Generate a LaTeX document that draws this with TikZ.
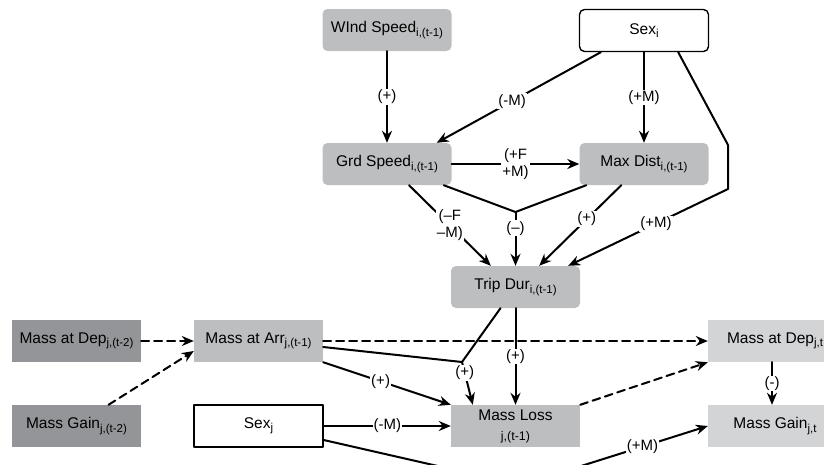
\documentclass[tikz,border=0pt]{standalone}
\usepackage{fontspec}
\setmainfont{Liberation Sans}
\usetikzlibrary{arrows.meta,calc}
\definecolor{BoxGray}{HTML}{BCBEC0}
\definecolor{BoxDark}{HTML}{939598}
\definecolor{BoxLight}{HTML}{D3D4D6}
\newcommand{\ix}[1]{\raisebox{-3.5pt}{\fontsize{11.5}{12}\selectfont #1}}

\begin{document}
\begin{tikzpicture}[x=1pt,y=-1pt,line cap=round,line join=round,
  box/.style={minimum width=129pt,minimum height=42pt,inner sep=0pt,font=\fontsize{15.5}{18}\selectfont},
  rbox/.style={box,rounded corners=5pt},
  lbl/.style={fill=white,inner sep=1pt,font=\fontsize{15}{17}\selectfont},
  link/.style={line width=2pt},
  cause/.style={link,-{Stealth[length=12pt,width=10pt]}},
  carry/.style={cause,dash pattern=on 8pt off 5pt}]
  \useasboundingbox (0,0) rectangle (824,464);
  \clip (0,0) rectangle (824,464);
  % boxes
  \node[rbox,fill=BoxGray] (wind) at (387,30) {WInd Speed\ix{i,(t-1)}};
  \node[rbox,draw,line width=1.4pt,fill=white] (sexi) at (644,30.5) {Sex\ix{i}};
  \node[rbox,fill=BoxGray] (grd) at (387,164) {Grd Speed\ix{i,(t-1)}};
  \node[rbox,fill=BoxGray] (maxd) at (644,164) {Max Dist\ix{i,(t-1)}};
  \node[rbox,fill=BoxGray] (trip) at (515.5,287) {Trip Dur\ix{i,(t-1)}};
  \node[box,fill=BoxDark] (depold) at (76.5,341) {Mass at Dep\ix{j,(t-2)}};
  \node[box,fill=BoxGray] (massarr) at (258.5,341) {Mass at Arr\ix{j,(t-1)}};
  \node[box,fill=BoxDark] (gainold) at (76.5,426) {Mass Gain\ix{j,(t-2)}};
  \node[box,draw,line width=1.4pt,fill=white] (sexj) at (258.5,426) {Sex\ix{j}};
  \node[box,fill=BoxGray,align=center] (loss) at (515.5,426) {Mass Loss\\[2pt]{\fontsize{12.5}{14}\selectfont j,(t-1)}};
  \node[box,fill=BoxLight,minimum width=134pt] (depnew) at (775,341) {Mass at Dep\ix{j,t}};
  \node[box,fill=BoxLight,minimum width=134pt] (gainnew) at (775,426) {Mass Gain\ix{j,t}};
  % bends and joins
  \coordinate (sexbendA) at (728,145);
  \coordinate (sexbendB) at (728,189);
  \coordinate (speedjoin) at (515.5,212);
  \coordinate (lossjoin) at (462,362);
  \coordinate (sexjbend) at (521,485);
  % links
  \draw[cause] (wind) -- node[lbl]{(+)} (grd);
  \draw[cause] ([xshift=22pt]sexi.south west) -- node[lbl,pos=.54]{(-M)} ([xshift=-15pt]grd.north east);
  \draw[cause] (sexi) -- node[lbl]{(+M)} (maxd);
  \draw[cause] ([xshift=-31pt]sexi.south east) -- (sexbendA) -- (sexbendB) -- node[lbl,pos=.45]{(+M)} ([xshift=-12pt]trip.north east);
  \draw[cause] (grd) -- node[lbl,align=center]{(+F\\+M)} (maxd);
  \draw[cause] ([xshift=22pt]grd.south) -- node[lbl,align=center]{(–F\\–M)} ([xshift=40pt]trip.north west);
  \draw[link] ([xshift=-8pt]grd.south east) -- (speedjoin) -- ([xshift=7pt]maxd.south west);
  \draw[cause] (speedjoin) -- node[lbl,pos=.3]{(–)} (trip);
  \draw[cause] ([xshift=42pt]maxd.south west) -- node[lbl,pos=.42]{(+)} ([xshift=-41pt]trip.north east);
  \draw[link] ([xshift=-15pt]trip.south) -- (lossjoin) -- ([yshift=-6pt]massarr.east);
  \draw[cause] (lossjoin) -- node[lbl,pos=.25]{(+)} ([xshift=22pt]loss.north west);
  \draw[cause] (trip) -- node[lbl]{(+)} (loss);
  \draw[cause] (massarr.south east) -- node[lbl,pos=.45]{(+)} (loss.north west);
  \draw[carry] (depold) -- (massarr);
  \draw[carry] ([xshift=32pt]gainold.north) -- ([yshift=-10pt]massarr.west);
  \draw[carry] (massarr) -- (depnew);
  \draw[carry] (loss.north east) -- (depnew.south west);
  \draw[cause] ([xshift=-3pt]depnew.south) -- node[lbl]{(-)} ([xshift=-3pt]gainnew.north);
  \draw[cause] (sexj) -- node[lbl]{(-M)} (loss);
  \draw[cause] ([yshift=-14pt]sexj.east) -- (sexjbend) -- node[lbl,pos=.65]{(+M)} (gainnew.west);
\end{tikzpicture}
\end{document}
